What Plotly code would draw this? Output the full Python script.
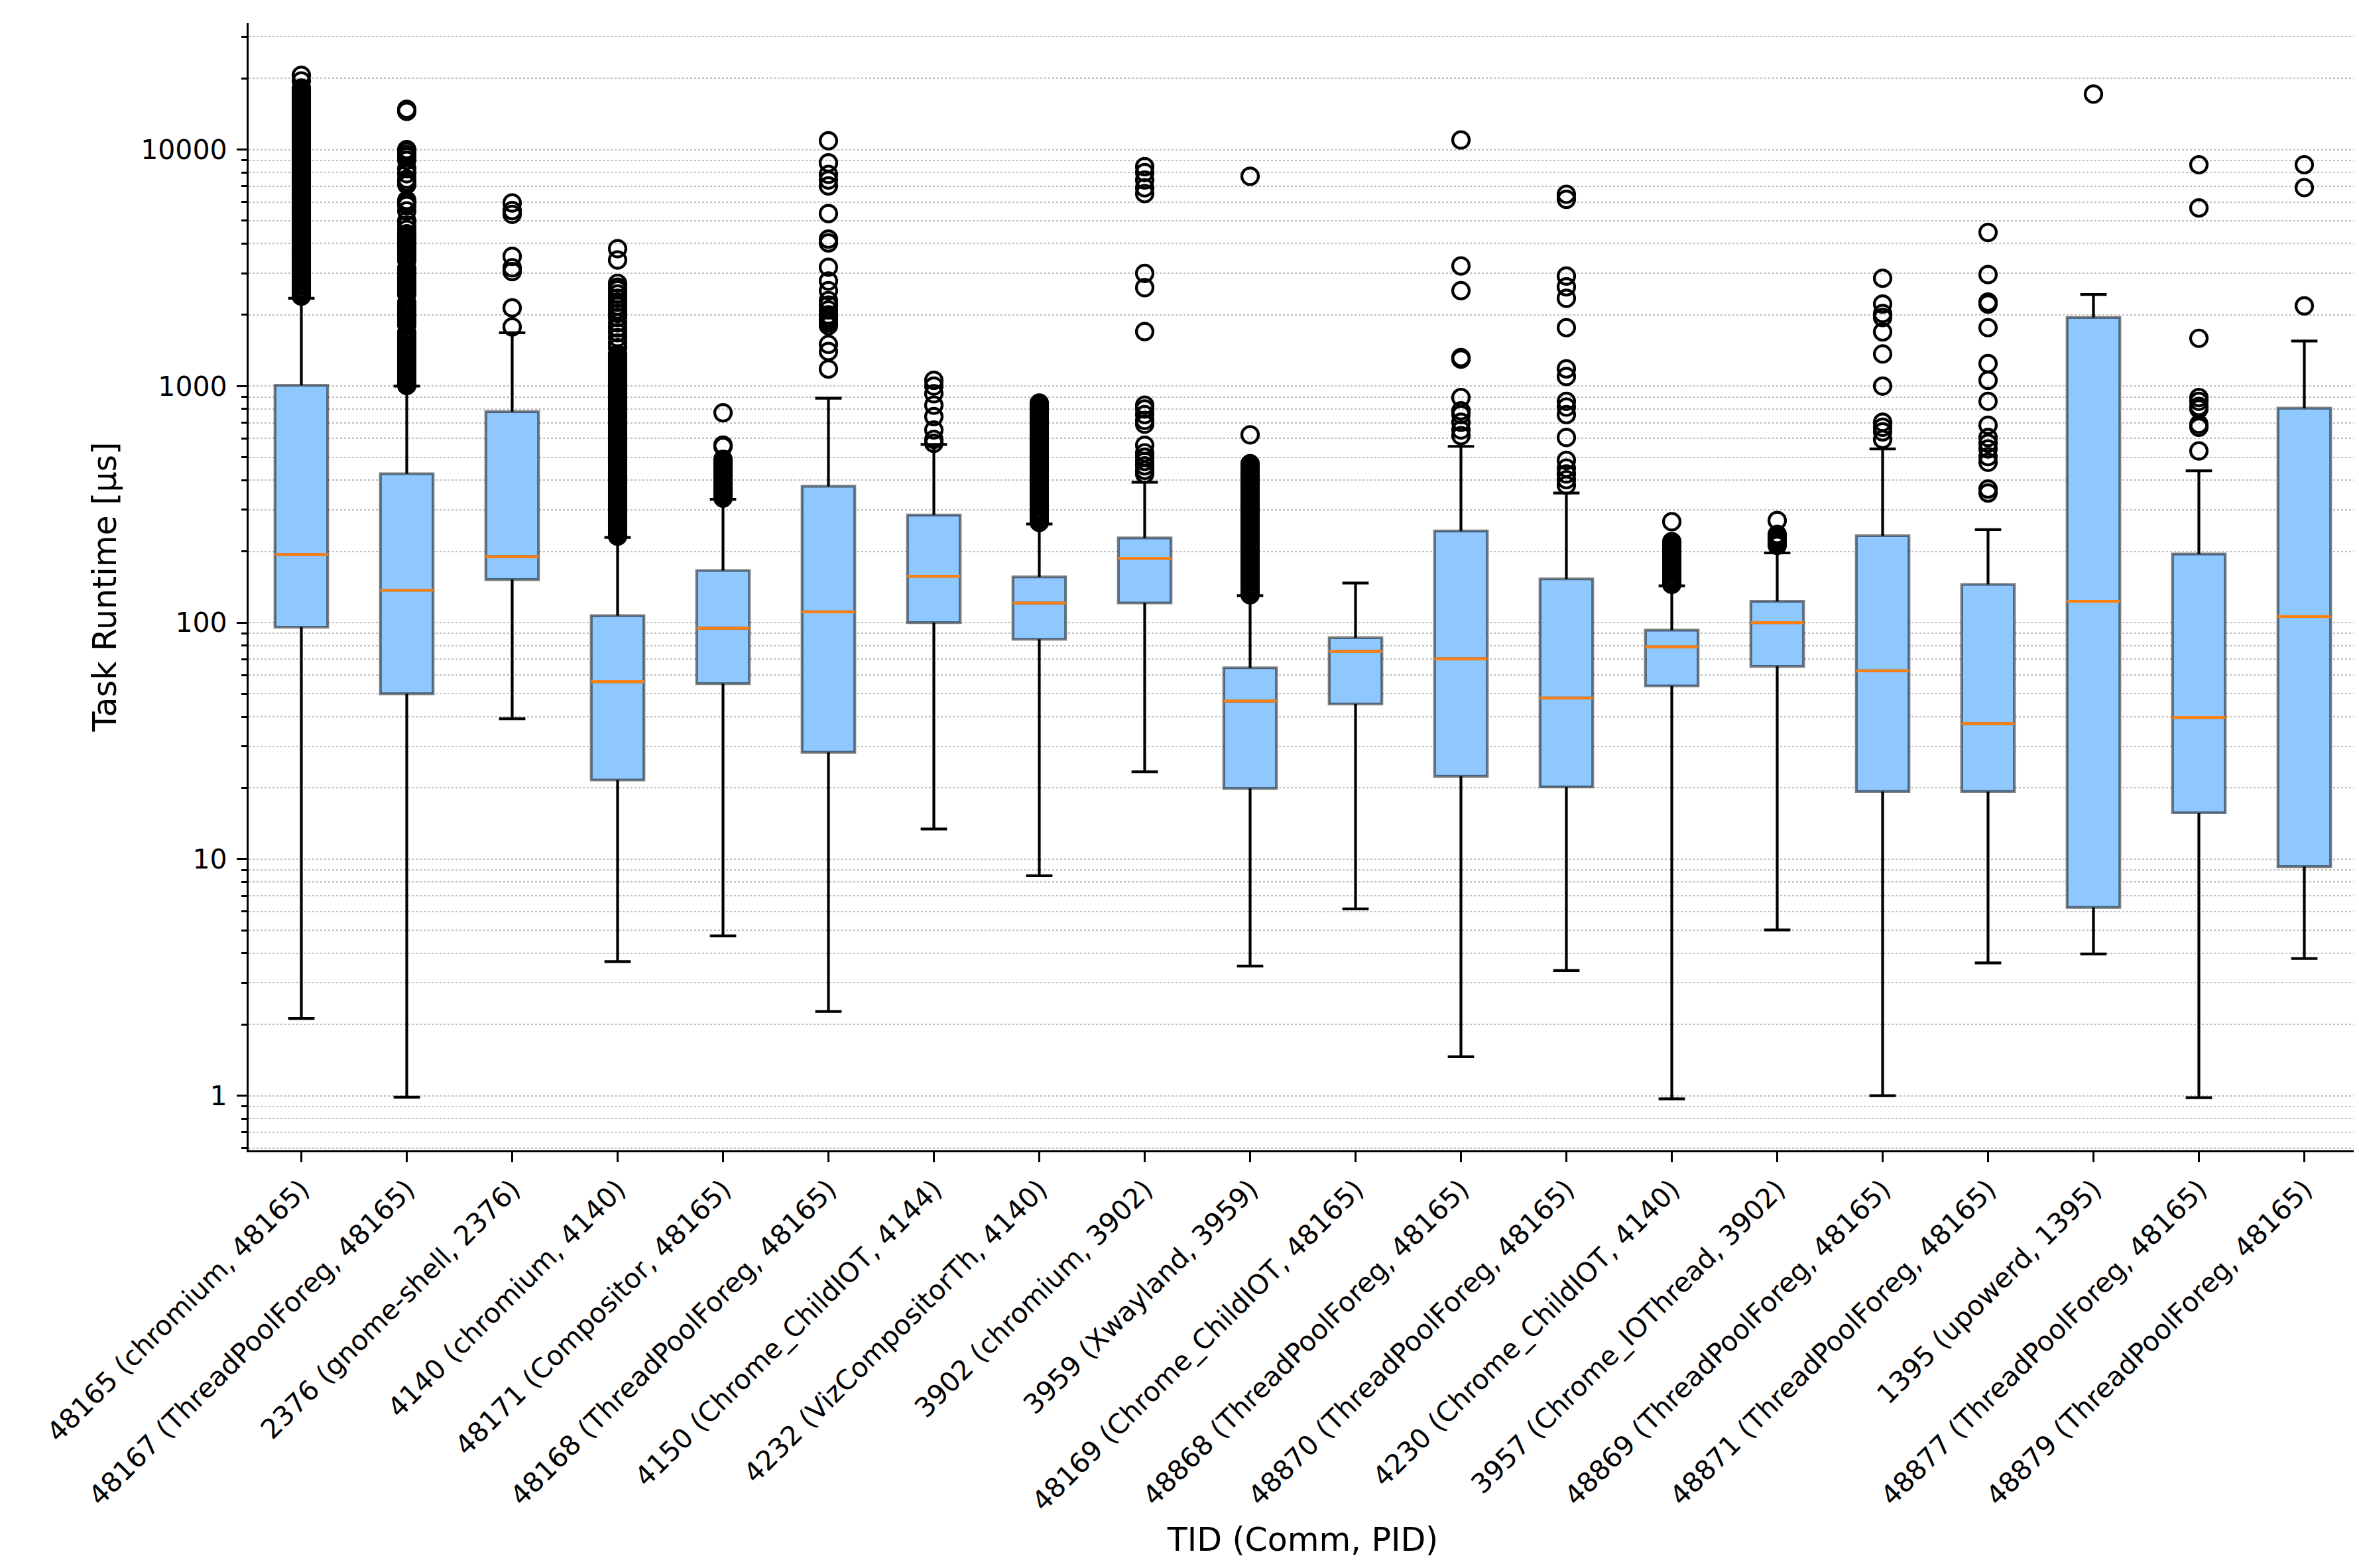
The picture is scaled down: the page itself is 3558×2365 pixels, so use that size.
import plotly.graph_objects as go

# ---------------- data ----------------
labels = [
    "48165 (chromium, 48165)",
    "48167 (ThreadPoolForeg, 48165)",
    "2376 (gnome-shell, 2376)",
    "4140 (chromium, 4140)",
    "48171 (Compositor, 48165)",
    "48168 (ThreadPoolForeg, 48165)",
    "4150 (Chrome_ChildIOT, 4144)",
    "4232 (VizCompositorTh, 4140)",
    "3902 (chromium, 3902)",
    "3959 (Xwayland, 3959)",
    "48169 (Chrome_ChildIOT, 48165)",
    "48868 (ThreadPoolForeg, 48165)",
    "48870 (ThreadPoolForeg, 48165)",
    "4230 (Chrome_ChildIOT, 4140)",
    "3957 (Chrome_IOThread, 3902)",
    "48869 (ThreadPoolForeg, 48165)",
    "48871 (ThreadPoolForeg, 48165)",
    "1395 (upowerd, 1395)",
    "48877 (ThreadPoolForeg, 48165)",
    "48879 (ThreadPoolForeg, 48165)",
]
positions = list(range(1, len(labels) + 1))

q1 = [95.6, 50, 152, 21.6, 55.2, 28.3, 100, 85, 121, 19.9,
      45.3, 22.4, 20.2, 54, 65.3, 19.3, 19.3, 6.25, 15.7, 9.3]
median = [194, 137, 190, 56.3, 94.6, 111, 157, 121, 187, 46.6,
          75.6, 70.3, 48, 79, 100, 62.5, 37.4, 123, 39.7, 106]
q3 = [1007, 426, 780, 107, 166, 377, 285, 156, 228, 64.4,
      86.3, 244, 153, 93, 123, 233, 145, 1950, 195, 806]
whisker_low = [2.12, 0.985, 39.2, 3.69, 4.74, 2.27, 13.4, 8.51, 23.4, 3.53,
               6.16, 1.46, 3.38, 0.97, 5.02, 1.0, 3.64, 3.97, 0.98, 3.80]
whisker_high = [2350, 1000, 1681, 229, 332, 888, 566, 261, 392, 130,
                147, 556, 353, 143, 197, 542, 247, 2438, 438, 1550]

outliers = [
    # 48165 (chromium)
    [2400, 2460, 2520, 2580, 2650, 2710, 2780, 2850, 2920, 2990, 3070, 3150,
     3230, 3310, 3390, 3480, 3560, 3650, 3740, 3840, 3930, 4030, 4130, 4240,
     4340, 4450, 4560, 4680, 4800, 4920, 5040, 5170, 5300, 5430, 5560, 5700,
     5850, 5990, 6140, 6300, 6450, 6610, 6780, 6950, 7120, 7300, 7480, 7670,
     7860, 8060, 8260, 8470, 8680, 8890, 9120, 9340, 9580, 9820, 10060, 10310,
     10570, 10840, 11110, 11390, 11670, 11960, 12260, 12570, 12880, 13200,
     13530, 13870, 14220, 14580, 14940, 15310, 15700, 16090, 16490, 16900,
     17330, 17760, 18200, 19500, 20600],
    # 48167
    [1005, 1030, 1055, 1080, 1110, 1135, 1165, 1195, 1225, 1255, 1285, 1320,
     1350, 1385, 1420, 1455, 1490, 1530, 1570, 1610, 1650, 1690, 1810, 1860,
     1900, 1950, 2000, 2050, 2100, 2150, 2200, 2260, 2440, 2500, 2550, 2600,
     2650, 2700, 2750, 2800, 2850, 2900, 2950, 3000, 3060, 3110, 3160, 3400,
     3500, 3550, 3650, 3700, 3800, 3850, 3950, 4000, 4100, 4150, 4250, 4300,
     4400, 4600, 4800, 5000, 5500, 5800, 5950, 6100, 7100, 7300, 7500, 7900,
     8300, 9000, 9300, 9500, 9800, 10000, 14500, 14800],
    # 2376
    [1778, 2140, 3047, 3162, 3535, 5320, 5520, 5945],
    # 4140
    [232, 238, 244, 250, 256, 262, 268, 275, 282, 289, 296, 303, 311, 318,
     326, 334, 343, 351, 360, 369, 378, 388, 397, 407, 417, 428, 438, 449,
     461, 472, 484, 496, 508, 521, 534, 548, 561, 575, 590, 604, 620, 635,
     651, 667, 684, 701, 718, 736, 755, 774, 793, 813, 833, 854, 875, 897,
     920, 943, 966, 990, 1015, 1040, 1066, 1093, 1120, 1148, 1177, 1206, 1237,
     1268, 1300, 1332, 1365, 1450, 1520, 1600, 1680, 1760, 1850, 1950, 2030,
     2100, 2180, 2260, 2350, 2450, 2550, 2620, 2720, 3410, 3810],
    # 48171
    [336, 344, 352, 360, 369, 378, 387, 396, 406, 416, 426, 436, 447, 458,
     469, 480, 490, 555, 563, 771],
    # 48168
    [1180, 1400, 1500, 1800, 1850, 1900, 1950, 2000, 2100, 2200, 2300, 2530,
     2780, 3180, 4030, 4180, 5360, 7020, 7430, 7850, 8780, 10890],
    # 4150
    [573, 595, 652, 743, 830, 928, 1000, 1057],
    # 4232
    [265, 272, 279, 286, 293, 300, 308, 315, 323, 331, 340, 348, 357, 366,
     375, 384, 394, 404, 414, 424, 435, 446, 457, 468, 480, 492, 504, 517,
     530, 543, 557, 571, 585, 600, 615, 630, 646, 662, 679, 696, 713, 731,
     749, 768, 787, 807, 827, 848],
    # 3902
    [425, 440, 460, 480, 500, 522, 562, 690, 716, 757, 800, 830, 1700, 2606,
     2995, 6510, 6890, 7430, 7990, 8460],
    # 3959
    [131, 134, 137, 141, 144, 148, 151, 155, 159, 163, 167, 171, 175, 180,
     184, 189, 193, 198, 203, 208, 213, 219, 224, 230, 235, 241, 247, 253,
     260, 266, 273, 280, 287, 294, 301, 309, 316, 324, 332, 341, 349, 358,
     367, 376, 386, 395, 405, 415, 426, 436, 447, 458, 470, 622, 7710],
    # 48169
    [],
    # 48868
    [617, 652, 703, 757, 786, 894, 1300, 1320, 2530, 3220, 10970],
    # 48870
    [381, 402, 425, 450, 485, 606, 757, 815, 862, 1097, 1182, 1765, 2350,
     2626, 2917, 6160, 6470],
    # 4230
    [145, 148, 152, 156, 160, 164, 168, 172, 176, 180, 185, 190, 195, 200,
     205, 210, 215, 220, 267],
    # 3957
    [212, 216, 220, 224, 228, 232, 236, 270],
    # 48869
    [595, 640, 670, 703, 1000, 1366, 1694, 1950, 2025, 2222, 2855],
    # 48871
    [353, 367, 476, 503, 542, 573, 606, 683, 862, 1057, 1245, 1765, 2222,
     2265, 2960, 4460],
    # 1395
    [17150],
    # 48877
    [532, 670, 690, 800, 820, 862, 894, 1592, 5660, 8620],
    # 48879
    [2183, 6900, 8620],
]

y_tick_vals = [1, 10, 100, 1000, 10000]
y_tick_text = ["1", "10", "100", "1000", "10000"]

# ---------------- styling ----------------
FONT = "DejaVu Sans"
FS = 41
BOX_W = 0.5
CAP_HALF = 0.125
LW = 4.2
BLUE = "#8fc7ff"
EDGE = "rgba(0,0,0,0.5)"
ORANGE = "#ff7f0e"
GRID = "#bdbdbd"

fig = go.Figure()

# whiskers + caps
wx, wy = [], []
for p, lo, a, b, hi in zip(positions, whisker_low, q1, q3, whisker_high):
    wx += [p, p, None, p, p, None,
           p - CAP_HALF, p + CAP_HALF, None, p - CAP_HALF, p + CAP_HALF, None]
    wy += [a, lo, None, b, hi, None, lo, lo, None, hi, hi, None]
fig.add_trace(go.Scatter(x=wx, y=wy, mode="lines",
                         line=dict(color="black", width=LW),
                         hoverinfo="skip", showlegend=False))

# boxes
fig.add_trace(go.Box(
    x=positions, q1=q1, median=median, q3=q3,
    lowerfence=q1, upperfence=q3,
    width=BOX_W, whiskerwidth=0,
    fillcolor=BLUE, line=dict(color=EDGE, width=LW),
    boxpoints=False, hoverinfo="skip", showlegend=False))

# medians
mx, my = [], []
for p, m in zip(positions, median):
    mx += [p - BOX_W / 2, p + BOX_W / 2, None]
    my += [m, m, None]
fig.add_trace(go.Scatter(x=mx, y=my, mode="lines",
                         line=dict(color=ORANGE, width=LW),
                         hoverinfo="skip", showlegend=False))

# outliers
ox, oy = [], []
for p, vals in zip(positions, outliers):
    ox += [p] * len(vals)
    oy += vals
fig.add_trace(go.Scatter(x=ox, y=oy, mode="markers",
                         marker=dict(symbol="circle-open", size=25,
                                     color="black", line=dict(width=LW, color="black")),
                         hoverinfo="skip", showlegend=False))

minor_vals = [m * 10 ** e for e in range(-1, 5) for m in range(2, 10)]

fig.update_layout(
    width=3558, height=2365,
    margin=dict(l=367, r=11, t=27, b=638),
    paper_bgcolor="white", plot_bgcolor="white",
    font=dict(family=FONT, size=FS, color="black"),
    xaxis=dict(
        range=[0.5, 20.5], tickmode="array", tickvals=positions, ticktext=labels,
        tickangle=-45, ticks="outside", ticklen=15, tickwidth=3.3, tickcolor="black",
        showline=True, linewidth=3.3, linecolor="black", showgrid=False,
        zeroline=False, title=dict(text="TID (Comm, PID)", standoff=18),
        tickfont=dict(family=FONT, size=FS),
    ),
    yaxis=dict(
        type="log", range=[-0.231, 4.534], tickmode="array",
        tickvals=y_tick_vals, ticktext=y_tick_text,
        ticks="outside", ticklen=15, tickwidth=3.3, tickcolor="black",
        showline=True, linewidth=3.3, linecolor="black",
        showgrid=True, gridcolor=GRID, gridwidth=2, griddash="3px,3px",
        zeroline=False, ticklabelstandoff=6,
        title=dict(text="Task Runtime [µs]", standoff=22),
        tickfont=dict(family=FONT, size=FS),
        minor=dict(tickmode="array", tickvals=minor_vals, ticks="outside",
                   ticklen=8, tickwidth=2.5, tickcolor="black",
                   showgrid=True, gridcolor=GRID, gridwidth=2, griddash="3px,3px"),
    ),
)

fig.write_html("out.html")
